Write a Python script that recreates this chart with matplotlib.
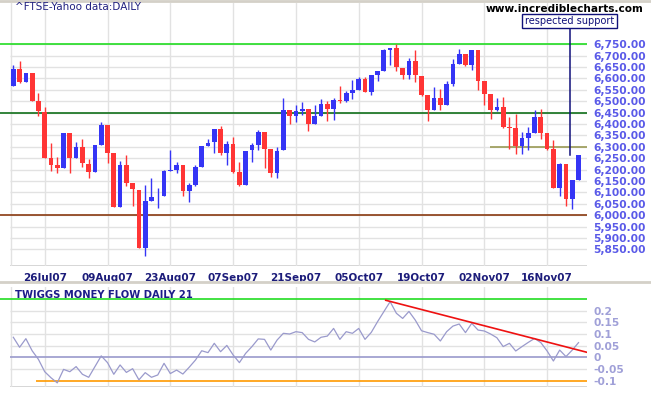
import matplotlib
matplotlib.use("Agg")
import matplotlib.pyplot as plt
import numpy as np

# daily FTSE candles, 19Jul07 .. 23Nov07
opens = [6569, 6642, 6586, 6624, 6501, 6453, 6251, 6218, 6209, 6361,
         6253, 6299, 6225, 6191, 6310, 6396, 6273, 6038, 6221, 6142,
         6111, 5858, 6064, 6082, 6086, 6196, 6200, 6221, 6104, 6133,
         6213, 6304, 6319, 6379, 6275, 6313, 6190, 6134, 6284, 6310,
         6365, 6291, 6183, 6284, 6462, 6433, 6458, 6466, 6398, 6436,
         6488, 6466, 6506, 6501, 6536, 6550, 6598, 6541, 6617, 6633,
         6726, 6734, 6646, 6617, 6677, 6611, 6528, 6463, 6515, 6485,
         6577, 6665, 6708, 6661, 6725, 6589, 6532, 6463, 6475, 6387,
         6383, 6304, 6339, 6361, 6431, 6361, 6291, 6121, 6225, 6073,
         6156]
highs = [6659, 6677, 6624, 6624, 6536, 6475, 6317, 6256, 6361, 6361,
         6321, 6334, 6245, 6308, 6409, 6396, 6273, 6238, 6264, 6142,
         6111, 6133, 6164, 6120, 6199, 6287, 6234, 6221, 6139, 6221,
         6304, 6336, 6379, 6390, 6326, 6343, 6234, 6282, 6317, 6374,
         6365, 6291, 6300, 6515, 6462, 6484, 6497, 6466, 6484, 6510,
         6501, 6515, 6567, 6545, 6593, 6607, 6607, 6617, 6633, 6729,
         6734, 6750, 6646, 6690, 6725, 6611, 6528, 6563, 6554, 6589,
         6686, 6729, 6708, 6725, 6725, 6589, 6532, 6515, 6519, 6431,
         6446, 6365, 6387, 6462, 6466, 6361, 6330, 6229, 6225, 6155,
         6265]
lows = [6568, 6580, 6586, 6503, 6437, 6253, 6196, 6187, 6209, 6187,
        6253, 6213, 6165, 6191, 6310, 6231, 6038, 6038, 6126, 6042,
        5858, 5823, 6064, 6033, 6086, 6196, 6183, 6086, 6060, 6126,
        6213, 6304, 6275, 6266, 6218, 6183, 6126, 6134, 6235, 6284,
        6209, 6169, 6161, 6284, 6398, 6411, 6440, 6371, 6398, 6436,
        6415, 6419, 6493, 6497, 6510, 6550, 6541, 6528, 6589, 6633,
        6659, 6634, 6598, 6599, 6586, 6525, 6415, 6463, 6463, 6485,
        6569, 6665, 6656, 6639, 6551, 6485, 6424, 6459, 6384, 6291,
        6270, 6270, 6284, 6361, 6336, 6286, 6121, 6082, 6042, 6029,
        6156]
closes = [6642, 6586, 6624, 6503, 6455, 6253, 6218, 6209, 6361, 6253,
          6299, 6227, 6191, 6308, 6396, 6275, 6038, 6221, 6143, 6113,
          5858, 6063, 6080, 6086, 6194, 6200, 6221, 6104, 6133, 6212,
          6304, 6317, 6379, 6275, 6313, 6191, 6134, 6282, 6308, 6365,
          6292, 6183, 6282, 6462, 6433, 6458, 6466, 6398, 6436, 6488,
          6466, 6506, 6501, 6536, 6550, 6598, 6541, 6617, 6633, 6725,
          6734, 6648, 6617, 6677, 6613, 6529, 6463, 6515, 6485, 6576,
          6664, 6708, 6661, 6725, 6590, 6533, 6463, 6475, 6389, 6383,
          6304, 6339, 6361, 6431, 6361, 6291, 6121, 6225, 6073, 6155,
          6265]

# Twiggs Money Flow 21
tmf = [0.086, 0.043, 0.080, 0.028, -0.009, -0.062, -0.088, -0.110, -0.052, -0.062,
       -0.040, -0.073, -0.086, -0.040, 0.006, -0.023, -0.073, -0.033, -0.065, -0.049,
       -0.097, -0.066, -0.086, -0.076, -0.026, -0.070, -0.055, -0.072, -0.043, -0.012,
       0.028, 0.020, 0.060, 0.024, 0.051, 0.010, -0.023, 0.017, 0.046, 0.079,
       0.077, 0.031, 0.074, 0.103, 0.100, 0.110, 0.106, 0.077, 0.066, 0.086,
       0.091, 0.124, 0.077, 0.110, 0.103, 0.124, 0.077, 0.107, 0.153, 0.196,
       0.239, 0.189, 0.167, 0.197, 0.160, 0.114, 0.106, 0.099, 0.070, 0.110,
       0.134, 0.143, 0.106, 0.146, 0.117, 0.113, 0.100, 0.084, 0.046, 0.060,
       0.027, 0.046, 0.064, 0.081, 0.063, 0.027, -0.016, 0.031, 0.003, 0.031,
       0.063]

tick_pos = [5, 15, 25, 35, 45, 55, 65, 75, 85]
tick_labels = ["26Jul07", "09Aug07", "23Aug07", "07Sep07", "21Sep07",
               "05Oct07", "19Oct07", "02Nov07", "16Nov07"]
price_ticks = list(range(5850, 6751, 50))
tmf_ticks = [0.2, 0.15, 0.1, 0.05, 0, -0.05, -0.1]
tmf_tick_labels = ["0.2", "0.15", "0.1", "0.05", "0", "-0.05", "-0.1"]

# horizontal levels
resist_hi = 6750
resist_mid = 6450
support_lo = 6000
support_short = 6300
trend_x = [59.3, 91.4]
trend_y = [0.245, 0.021]

W, H = 651, 395
fig = plt.figure(figsize=(W / 100, H / 100), dpi=100)
fig.patch.set_facecolor("white")

xl = (-2.12, 91.35)
grid_c = "#e2e2e2"
blue = "#3535f5"
red = "#ff3535"

ax1 = fig.add_axes([0, (H - 266) / H, 587 / W, 263 / H])
ax1.set_xlim(*xl)
ax1.set_ylim(5777, 6931)
for s in ax1.spines.values():
    s.set_visible(False)

for p in price_ticks:
    ax1.hlines(p, -0.5, xl[1], color=grid_c, lw=1, zorder=0)
ax1.hlines(5777.5, -0.5, xl[1], color="#d0d0d0", lw=1.2, zorder=0)
for t in tick_pos + [-0.35]:
    ax1.axvline(t, ymin=0, ymax=1, color=grid_c, lw=1, zorder=0)

x = np.arange(len(opens))
o = np.array(opens, float)
c = np.array(closes, float)
up = c >= o
cols = np.where(up, blue, red)
body_lo = np.minimum(o, c)
body_h = np.maximum(np.abs(c - o), 3)
ax1.vlines(x, lows, highs, colors=cols, lw=1, zorder=3)
ax1.bar(x, body_h, bottom=body_lo, width=0.75, color=cols, lw=0, zorder=4)

ax1.hlines(resist_hi, xl[0], xl[1], color="#22dd22", lw=1.2, zorder=2)
ax1.hlines(resist_mid, xl[0], xl[1], color="#11701a", lw=1.2, zorder=2)
ax1.hlines(support_lo, xl[0], xl[1], color="#8a3a10", lw=1.2, zorder=2)
ax1.hlines(support_short, 75.9, xl[1], color="#9a9a55", lw=1.2, zorder=2)

# annotation pointer
ax1.plot([88.7, 88.7], [6262, 6828], color="#10107a", lw=1.1, zorder=5)

ax1.yaxis.tick_right()
ax1.set_yticks(price_ticks)
ax1.set_yticklabels([f"{p:,.2f}" for p in price_ticks], color="#5a5ae8",
                    fontsize=7.7, fontweight="bold")
ax1.tick_params(axis="y", length=0, pad=4.5)
ax1.set_xticks(tick_pos)
ax1.set_xticklabels(tick_labels, color="#1c1c7a", fontsize=7.5, fontweight="bold")
ax1.tick_params(axis="x", length=0, pad=5)

fig.text(15 / W, 1 - 10 / H, "^FTSE-Yahoo data:DAILY", color="#202080",
         fontsize=7.5, va="baseline", ha="left")
fig.text(643 / W, 1 - 12.5 / H, "www.incrediblecharts.com", color="black",
         fontsize=7.6, fontweight="bold", ha="right", va="baseline")
fig.text(569.5 / W, 1 - 21 / H, "respected support", color="#10107a",
         fontsize=7, ha="center", va="center",
         bbox=dict(boxstyle="square,pad=0.25", fc="white", ec="#10107a", lw=1))

# separator between panels
fig.add_artist(plt.Line2D([0, 1], [1 - 282 / H, 1 - 282 / H],
                          color="#d4d0c8", lw=2, transform=fig.transFigure))
fig.add_artist(plt.Line2D([0, 1], [1 - 1 / H, 1 - 1 / H],
                          color="#d4d0c8", lw=2, transform=fig.transFigure))

ax2 = fig.add_axes([0, (H - 387.3) / H, 587 / W, 100.3 / H])
ax2.set_xlim(*xl)
ax2.set_ylim(-0.129, 0.302)
for s in ax2.spines.values():
    s.set_visible(False)
for v in [-0.05, 0.05, 0.1, 0.15, 0.2]:
    ax2.hlines(v, -0.5, xl[1], color=grid_c, lw=1, zorder=0)
ax2.hlines(-0.128, -0.5, xl[1], color="#d0d0d0", lw=1.2, zorder=0)
for t in tick_pos + [-0.35]:
    ax2.axvline(t, color=grid_c, lw=1, zorder=0)

ax2.hlines(0.25, xl[0], xl[1], color="#22dd22", lw=1.2, zorder=2)
ax2.hlines(0, -0.5, xl[1], color="#9a9acc", lw=1.2, zorder=2)
ax2.hlines(-0.1, 3.6, xl[1], color="#ff9900", lw=1.2, zorder=2)
ax2.plot(x, tmf, color="#9a9acc", lw=0.9, zorder=3)
ax2.plot(trend_x, trend_y, color="#ee1111", lw=1.2, zorder=4)

ax2.yaxis.tick_right()
ax2.set_yticks(tmf_ticks)
ax2.set_yticklabels(tmf_tick_labels, color="#a0a0d8", fontsize=7.7,
                    fontweight="bold")
ax2.tick_params(axis="y", length=0, pad=4.5)
ax2.set_xticks([])
ax2.text(15 / 587, 1 - 3 / 100.3, "TWIGGS MONEY FLOW DAILY 21",
         transform=ax2.transAxes, color="#1c1c8a", fontsize=7.2,
         fontweight="bold", ha="left", va="top")

fig.savefig("out.png", dpi=100, facecolor="white")
